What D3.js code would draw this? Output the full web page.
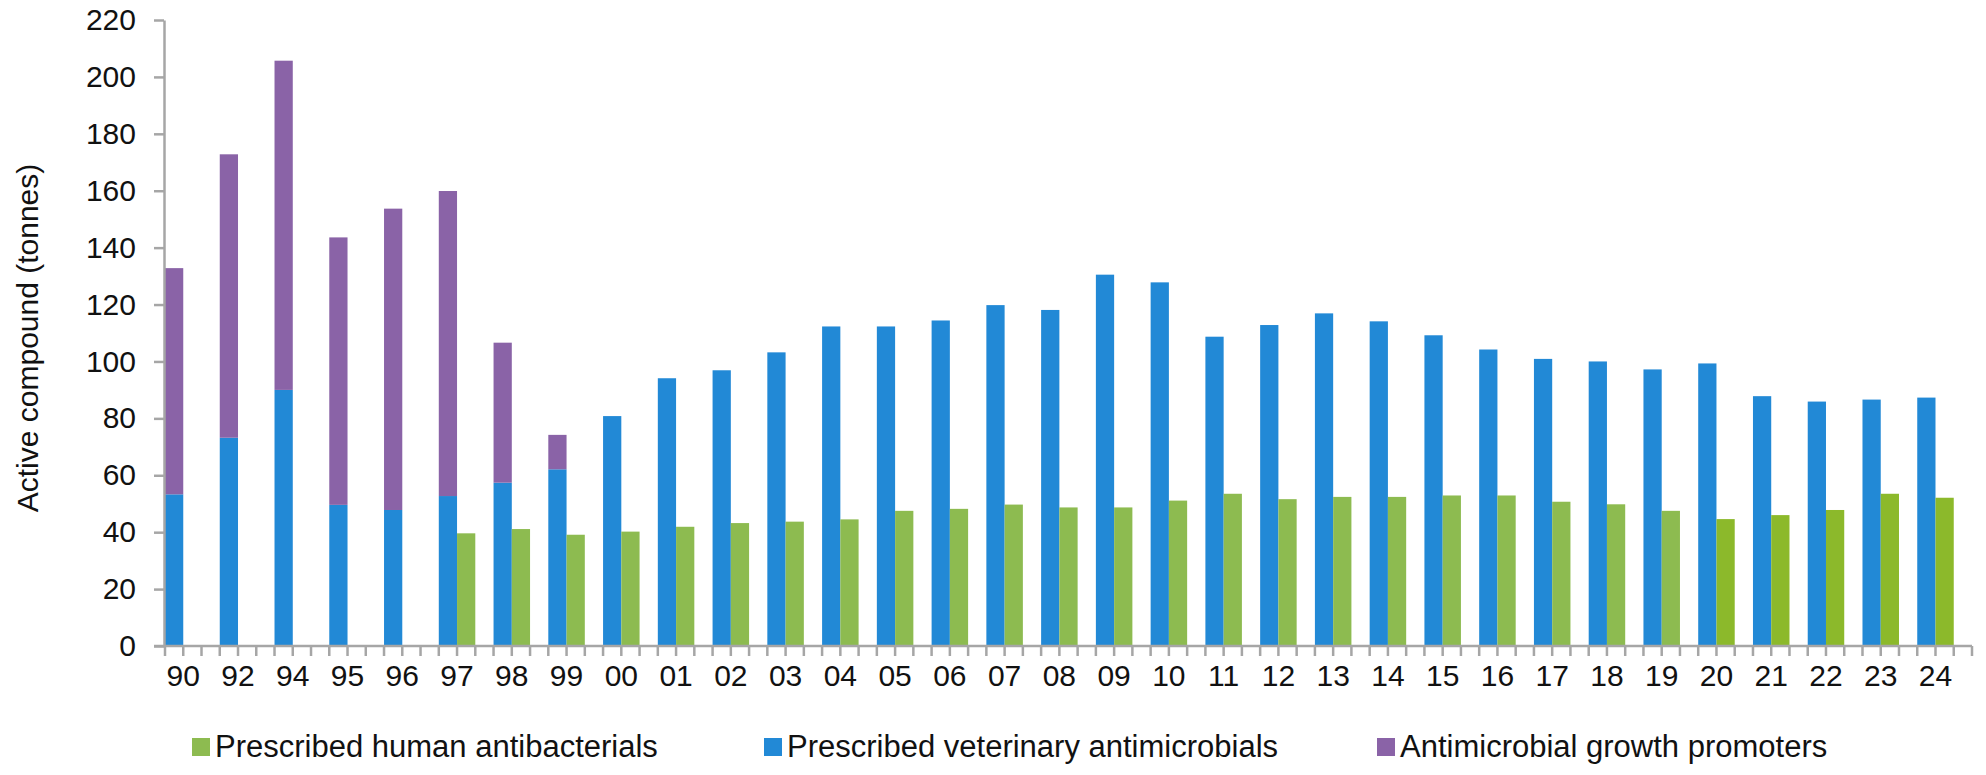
<!DOCTYPE html>
<html>
<head>
<meta charset="utf-8">
<script src="https://d3js.org/d3.v7.min.js"></script>
<style>
  body { margin: 0; background: #fff; }
  text { font-family: "Liberation Sans", Arial, sans-serif; fill: #111; }
</style>
</head>
<body>
<div id="chart"></div>
<script>
// Data
var years = ["90","92","94","95","96","97","98","99","00","01","02","03","04","05","06","07",
  "08","09","10","11","12","13","14","15","16","17","18","19","20","21","22","23","24"];

var humanAntibacterials = [null, null, null, null, null, 39.6, 41.1, 39.1, 40.2, 41.9, 43.2, 43.7,
  44.5, 47.5, 48.2, 49.7, 48.7, 48.7, 51.1, 53.5, 51.6, 52.4, 52.4, 52.9, 52.9, 50.7, 49.8, 47.5,
  44.6, 46.0, 47.8, 53.5, 52.1];

var vetAntimicrobials = [53.3, 73.2, 90.0, 49.6, 47.8, 52.7, 57.4, 62.1, 80.8, 94.1, 96.9, 103.2,
  112.3, 112.3, 114.4, 119.8, 118.1, 130.5, 127.8, 108.7, 112.8, 116.9, 114.1, 109.2, 104.2, 100.9,
  100.0, 97.2, 99.3, 87.8, 85.9, 86.6, 87.3];

var growthPromoters = [79.5, 99.6, 115.7, 94.0, 105.9, 107.2, 49.2, 12.1];

var seriesNames = ["Prescribed human antibacterials", "Prescribed veterinary antimicrobials",
  "Antimicrobial growth promoters"];

var yTicks = [0, 20, 40, 60, 80, 100, 120, 140, 160, 180, 200, 220];

var svgWidth = 1986;
var svgHeight = 775;

var colors = {
  human: "#8dbb50",
  humanLate: "#8cb92b",
  vet: "#2289d6",
  promo: "#8a63a7",
  axis: "#a6a6a6"
};

var svg = d3.select("#chart")
  .append("svg")
  .attr("width", svgWidth)
  .attr("height", svgHeight);

// scales: each year gets three slots (vet, human, empty)
var xScale = d3.scaleBand()
  .domain(years)
  .range([165, 1972])
  .padding(0);

var slotScale = d3.scaleBand()
  .domain(["vet", "human", "blank"])
  .range([0, xScale.bandwidth()])
  .padding(0);

var yScale = d3.scaleLinear()
  .domain([0, 220])
  .range([646, 20]);

var rows = years.map(function(y, i) {
  return {
    year: y,
    human: humanAntibacterials[i],
    vet: vetAntimicrobials[i],
    promo: growthPromoters[i] || 0
  };
});

var barGroup = svg.append("g");

// veterinary (blue)
barGroup.selectAll(".vet")
  .data(rows)
  .enter()
  .append("rect")
  .attr("class", "vet")
  .attr("x", d => xScale(d.year) + slotScale("vet"))
  .attr("width", slotScale.bandwidth())
  .attr("y", d => yScale(d.vet))
  .attr("height", d => yScale(0) - yScale(d.vet))
  .attr("fill", colors.vet);

// growth promoters stacked on top of vet
barGroup.selectAll(".promo")
  .data(rows.filter(d => d.promo > 0))
  .enter()
  .append("rect")
  .attr("class", "promo")
  .attr("x", d => xScale(d.year) + slotScale("vet"))
  .attr("width", slotScale.bandwidth())
  .attr("y", d => yScale(d.vet + d.promo))
  .attr("height", d => yScale(d.vet) - yScale(d.vet + d.promo))
  .attr("fill", colors.promo);

// human (green)
var lateStart = years.indexOf("20");
barGroup.selectAll(".human")
  .data(rows.filter(d => d.human != null))
  .enter()
  .append("rect")
  .attr("class", "human")
  .attr("x", d => xScale(d.year) + slotScale("human"))
  .attr("width", slotScale.bandwidth())
  .attr("y", d => yScale(d.human))
  .attr("height", d => yScale(0) - yScale(d.human))
  .attr("fill", d => years.indexOf(d.year) >= lateStart ? colors.humanLate : colors.human);

// y axis
var leftAxis = d3.axisLeft(yScale)
  .tickValues(yTicks)
  .tickSize(10)
  .tickSizeOuter(0)
  .tickPadding(18);

var yAxisG = svg.append("g")
  .attr("transform", "translate(164,0)")
  .call(leftAxis);

yAxisG.select(".domain").attr("stroke", colors.axis).attr("stroke-width", 2.5);
yAxisG.selectAll(".tick line").attr("stroke", colors.axis).attr("stroke-width", 2.5);
yAxisG.selectAll(".tick text")
  .style("font-family", "'Liberation Sans', Arial, sans-serif")
  .style("font-size", "30px")
  .attr("fill", "#111");

// x axis: line, a tick at every slot boundary, labels centred between the two bars
var xAxisG = svg.append("g");

xAxisG.append("line")
  .attr("x1", 154)
  .attr("x2", xScale.range()[1])
  .attr("y1", yScale(0))
  .attr("y2", yScale(0))
  .attr("stroke", colors.axis)
  .attr("stroke-width", 2.5);

var tickPositions = [];
years.forEach(function(y) {
  slotScale.domain().forEach(function(s) {
    tickPositions.push(xScale(y) + slotScale(s));
  });
});
tickPositions.push(xScale.range()[1]);

xAxisG.selectAll(".xtick")
  .data(tickPositions)
  .enter()
  .append("line")
  .attr("class", "xtick")
  .attr("x1", d => d)
  .attr("x2", d => d)
  .attr("y1", yScale(0))
  .attr("y2", yScale(0) + 10)
  .attr("stroke", colors.axis)
  .attr("stroke-width", 2.5);

xAxisG.selectAll(".xlabel")
  .data(years)
  .enter()
  .append("text")
  .attr("class", "xlabel")
  .attr("x", d => xScale(d) + slotScale("human"))
  .attr("y", 686)
  .attr("text-anchor", "middle")
  .attr("font-size", "30px")
  .text(d => d);

// y axis title
svg.append("text")
  .attr("transform", "translate(38, 338) rotate(-90)")
  .attr("text-anchor", "middle")
  .attr("font-size", "30px")
  .text("Active compound (tonnes)");

// legend
var legendItems = [
  { name: seriesNames[0], color: colors.human, x: 192 },
  { name: seriesNames[1], color: colors.vet, x: 764 },
  { name: seriesNames[2], color: colors.promo, x: 1377 }
];

var legend = svg.selectAll(".legend")
  .data(legendItems)
  .enter()
  .append("g")
  .attr("class", "legend")
  .attr("transform", d => `translate(${d.x}, 738)`);

legend.append("rect")
  .attr("width", 18)
  .attr("height", 18)
  .attr("fill", d => d.color);

legend.append("text")
  .attr("x", 23)
  .attr("y", 19)
  .attr("font-size", "31px")
  .text(d => d.name);
</script>
</body>
</html>
